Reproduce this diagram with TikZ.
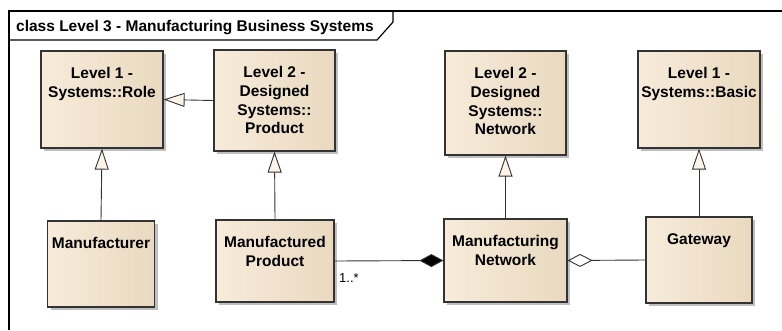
\documentclass[tikz,border=0pt]{standalone}
\usepackage{fontspec}
\setmainfont{Liberation Sans}
\usetikzlibrary{arrows.meta,shadows}

\definecolor{clsl}{HTML}{F7EBDA}
\definecolor{clsm}{HTML}{FCF4E9}
\definecolor{clsr}{HTML}{E9D9BF}
\definecolor{tipfill}{HTML}{FCF4E8}

% class box: name, x, y, width, height, text
\newcommand\clsbox[6]{%
  \node[cls, minimum width=#4pt, minimum height=#5pt] (#1) at (#2,#3) {};
  \node[clstext] (#1-t) at ([yshift=-17pt]#1.north) {#6};}

\begin{document}
\begin{tikzpicture}[x=1pt,y=-1pt,
  cls/.style={draw=black!80, line width=1.2pt, inner sep=0pt,
    left color=clsl, middle color=clsm, right color=clsr,
    drop shadow={shadow xshift=3pt, shadow yshift=-3pt, fill=black!25, opacity=1}},
  clstext/.style={font=\bfseries\fontsize{15.5}{18.7}\selectfont, align=center,
    anchor=north, inner sep=0pt},
  gen/.style={draw=black!80, line width=0.9pt,
    -{Triangle[length=21pt, width=14pt, fill=tipfill]}},
  comp/.style={draw=black!80, line width=0.9pt,
    -{Diamond[length=24pt, width=13pt, fill=black]}},
  aggr/.style={draw=black!80, line width=0.9pt,
    -{Diamond[length=25pt, width=13pt, fill=white]}}]
\useasboundingbox (0,0) rectangle (782,330);
% diagram frame
\draw[line width=1.2pt] (9,330) -- (9,11) -- (782,11);
\draw[line width=1.2pt] (9,40) -- (377,40) -- (393,22) -- (393,11);
\node[font=\bfseries\fontsize{15.5}{18}\selectfont, anchor=base west, inner sep=0pt]
  (title) at (16,31.5) {class Level 3 - Manufacturing Business Systems};
% upper row
\clsbox{role}{102}{99.5}{122}{97}{Level 1 -\\Systems::Role}
\clsbox{product}{274.5}{100.5}{121}{101}{Level 2 -\\Designed\\Systems::\\Product}
\clsbox{network}{505.5}{103}{121}{104}{Level 2 -\\Designed\\Systems::\\Network}
\clsbox{basic}{699}{99.5}{122}{97}{Level 1 -\\Systems::Basic}
% lower row
\clsbox{maker}{101}{264}{107}{86}{Manufacturer}
\clsbox{mproduct}{275}{261}{118}{82}{Manufactured\\Product}
\clsbox{mnetwork}{505.5}{260.5}{123}{83}{Manufacturing\\Network}
\clsbox{gateway}{699}{260}{106}{86}{Gateway}
% generalizations
\draw[gen] (product.west) -- (role.east);
\draw[gen] (maker.north) -- (role.south);
\draw[gen] (mproduct.north) -- (product.south);
\draw[gen] (mnetwork.north) -- (network.south);
\draw[gen] (gateway.north) -- (basic.south);
% associations
\draw[comp] (mproduct.east) -- (mnetwork.west);
\draw[aggr] (gateway.west) -- (mnetwork.east);
\node[font=\fontsize{13}{15}\selectfont, anchor=west, inner sep=0pt]
  (mult) at (339,278) {1..*};
\end{tikzpicture}
\end{document}
